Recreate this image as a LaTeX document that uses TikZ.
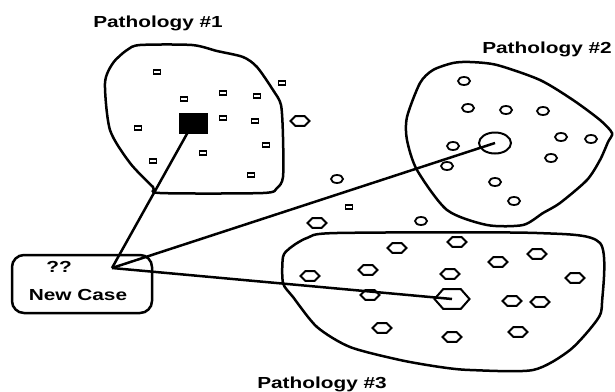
\documentclass[tikz,border=0pt]{standalone}
\usepackage{fontspec}
\newfontfamily\labelfont[FakeStretch=1.3]{Liberation Sans}
\usetikzlibrary{shapes.geometric}
\tikzset{
  outline/.style={line width=2.5pt,draw=black},
  link/.style={line width=2.5pt,draw=black},
  dotsq/.style={draw=black,line width=1.6pt,rectangle,minimum width=7pt,minimum height=4.5pt,inner sep=0pt},
  dotcirc/.style={draw=black,line width=1.8pt,ellipse,minimum width=12pt,minimum height=8pt,inner sep=0pt},
  dothex/.style={draw=black,line width=2pt,regular polygon,regular polygon sides=6,minimum size=11pt,inner sep=0pt,xscale=1.73,transform shape},
  tag/.style={font=\labelfont\bfseries\fontsize{16}{18}\selectfont,inner sep=0pt,anchor=base}
}

\begin{document}
\begin{tikzpicture}[x=1pt,y=-1pt]
  \useasboundingbox (0,0) rectangle (615,391);
  % the three pathology regions
  \draw[outline] plot[smooth cycle,tension=0.45] coordinates {(140,45) (192,45) (217,51) (243,57) (257,67) (273,90) (281,105) (283,137) (283,177) (277,188) (263,193) (160,193) (153,187) (130,163) (110,130) (105,83) (113,63) (127,50)};
  \draw[outline] plot[smooth cycle,tension=0.45] coordinates {(453,63) (470,62) (497,65) (540,80) (573,100) (600,120) (612,133) (608,142) (600,160) (587,180) (560,203) (543,213) (523,225) (487,225) (447,210) (417,170) (407,140) (407,117) (420,83) (433,70)};
  \draw[outline] plot[smooth cycle,tension=0.45] coordinates {(283,257) (290,248) (307,238) (337,233) (537,233) (600,243) (602,303) (597,320) (570,350) (533,370) (470,370) (440,367) (400,360) (350,347) (317,327) (293,297) (283,283)};
  \node[tag] (path1) at (158,27) {Pathology \#1};
  \node[tag] (path2) at (547,53) {Pathology \#2};
  \node[tag] (path3) at (322,388) {Pathology \#3};
  % known cases
  \foreach \x/\y [count=\i] in {157/72,184/99,223/93,257/96,223/118,255/121,138/128,266/145,203/153,153/161,251/175,282/83,349/207}
    \node[dotsq] (sq\i) at (\x,\y) {};
  \foreach \x/\y [count=\i] in {464/81,468/108,506/110,543/111,561/137,591/139,453/146,551/158,447/166,495/182,514/201,337/179,421/221}
    \node[dotcirc] (ci\i) at (\x,\y) {};
  \foreach \x/\y [count=\i] in {300/121,317/223,397/248,457/242,537/254,498/262,368/270,310/276,450/274,575/278,370/295,512/301,540/302,382/328,452/337,518/332}
    \node[dothex] (hx\i) at (\x,\y) {};
  % nearest cases
  \node[draw=black,fill=black,minimum width=28pt,minimum height=20pt,inner sep=0pt] (nearsq) at (193,123) {};
  \node[dotcirc,line width=2pt,minimum width=32pt,minimum height=21pt] (nearci) at (495,143) {};
  \node[dothex,line width=2pt,minimum size=23pt,xscale=0.88] (nearhx) at (452,299) {};
  % the new case
  \node[outline,rounded corners=12pt,minimum width=140pt,minimum height=58pt] (newcase) at (82,284) {};
  \node[tag] (unknown) at (59,272) {??};
  \node[tag] (caselabel) at (78,300) {New Case};
  \coordinate (apex) at (112,268);
  \draw[link] (apex) -- (nearsq);
  \draw[link] (apex) -- (nearci.center);
  \draw[link] (apex) -- (nearhx.center);
\end{tikzpicture}
\end{document}
